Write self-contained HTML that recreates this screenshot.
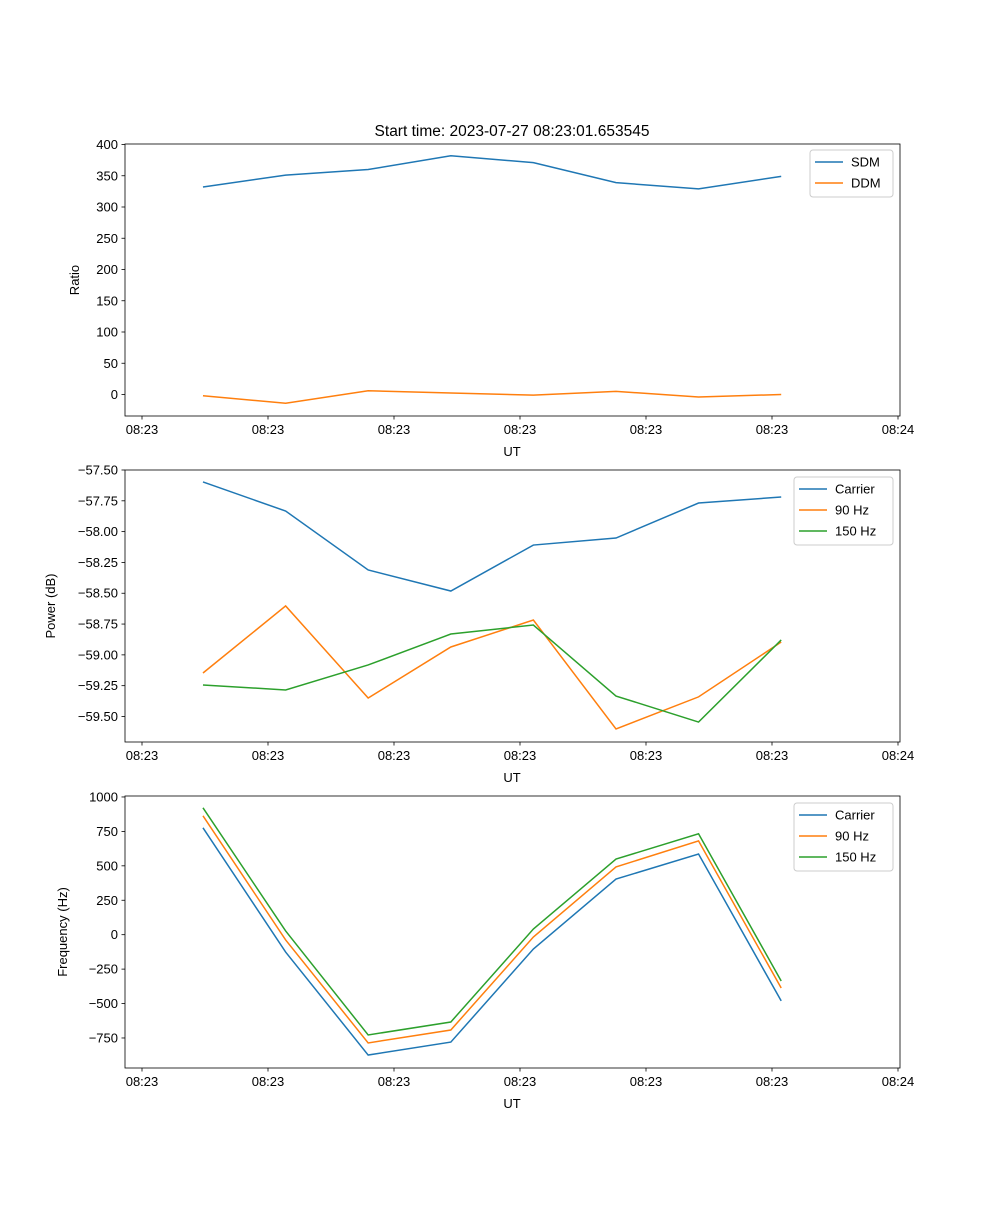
<!DOCTYPE html>
<html><head><meta charset="utf-8"><style>
body{margin:0;background:#fff;}
svg text{font-family:"Liberation Sans","DejaVu Sans",sans-serif;font-size:13px;fill:#000;}
</style></head><body>
<svg id="fig" width="1000" height="1200" xmlns="http://www.w3.org/2000/svg">
<rect width="1000" height="1200" fill="#fff"/>
<text x="512" y="136" text-anchor="middle" style="font-size:15.5px">Start time: 2023-07-27 08:23:01.653545</text>
</svg>
<script>
const times = [0.484, 1.140, 1.795, 2.451, 3.106, 3.762, 4.417, 5.073];
const xTickVals = [0, 1, 2, 3, 4, 5, 6];
const xTickLabels = ["08:23","08:23","08:23","08:23","08:23","08:23","08:24"];
const sdm = [332, 351, 360, 382, 371, 339, 329, 349];
const ddm = [-2, -14, 6, 2.5, -1, 5, -4, 0];
const pCarrier = [-57.597, -57.833, -58.311, -58.482, -58.109, -58.052, -57.768, -57.719];
const p90 = [-59.147, -58.603, -59.35, -58.936, -58.717, -59.601, -59.341, -58.896];
const p150 = [-59.244, -59.285, -59.082, -58.831, -58.758, -59.334, -59.545, -58.879];
const fCarrier = [776, -126, -874, -780, -104, 404, 586, -481];
const f90 = [863, -38, -786, -692, -17, 492, 681, -387];
const f150 = [921, 27, -728, -634, 41, 549, 733, -336];
const ticks1 = [0, 50, 100, 150, 200, 250, 300, 350, 400];
const ticks2 = [-57.5, -57.75, -58, -58.25, -58.5, -58.75, -59, -59.25, -59.5];
const ticks3 = [1000, 750, 500, 250, 0, -250, -500, -750];

const NS = "http://www.w3.org/2000/svg";
const svg = document.getElementById('fig');
const L = 125, R = 900;
const xScale = v => 142 + (v - 0) * 126;
function mk(tag, attrs, parent) {
  const e = document.createElementNS(NS, tag);
  for (const k in attrs) e.setAttribute(k, attrs[k]);
  (parent || svg).appendChild(e);
  return e;
}
const colors = ["#1f77b4", "#ff7f0e", "#2ca02c"];

function panel(top, bottom, yMin, yMax, yTicks, fmt, ylabel, ylabelX, series, names, legend, pname) {
  const g = mk('g', {});
  
  
  const yScale = v => bottom - (v - yMin) / (yMax - yMin) * (bottom - top);
  series.forEach((s, si) => {
    const pts = s.map((v, i) => xScale(times[i]).toFixed(2) + ',' + yScale(v).toFixed(2)).join(' ');
    const pl = mk('polyline', {points: pts, fill: 'none', stroke: colors[si], 'stroke-width': 1.5}, g);
    
    
  });
  const fr = mk('rect', {x: L, y: top, width: R - L, height: bottom - top, fill: 'none', stroke: '#000', 'stroke-width': 0.8}, g);
  
  
  xTickVals.forEach((v, i) => {
    const x = xScale(v);
    mk('line', {x1: x, x2: x, y1: bottom, y2: bottom + 3.5, stroke: '#000', 'stroke-width': 0.8}, g);
    const t = mk('text', {x: x, y: bottom + 18, 'text-anchor': 'middle'}, g);
    t.textContent = xTickLabels[i];
    
    
  });
  const xl = mk('text', {x: 512, y: bottom + 40, 'text-anchor': 'middle'}, g);
  xl.textContent = 'UT';
  
  
  yTicks.forEach(v => {
    const y = yScale(v);
    mk('line', {x1: L - 3.5, x2: L, y1: y, y2: y, stroke: '#000', 'stroke-width': 0.8}, g);
    const t = mk('text', {x: L - 7, y: y + 4.5, 'text-anchor': 'end'}, g);
    t.textContent = fmt(v);
    
    
  });
  const cy = (top + bottom) / 2;
  const yl = mk('text', {x: ylabelX, y: cy, 'text-anchor': 'middle', transform: `rotate(-90 ${ylabelX} ${cy})`}, g);
  yl.textContent = ylabel;
  
  
  const lg = mk('g', {}, g);
  
  
  mk('rect', {x: legend[0], y: legend[1], width: 893 - legend[0], height: names.length * 21 + 5, fill: '#fff', stroke: '#ccc', rx: 3}, lg);
  names.forEach((n, i) => {
    const y = legend[1] + 12 + i * 21;
    mk('line', {x1: legend[0] + 5, x2: legend[0] + 33, y1: y, y2: y, stroke: colors[i], 'stroke-width': 1.5}, lg);
    const t = mk('text', {x: legend[0] + 41, y: y + 4.5}, lg);
    t.textContent = n;
    
    
  });
}
panel(144, 416, -34.4, 400.8, ticks1, v => String(v), 'Ratio', 79, [sdm, ddm], ['SDM', 'DDM'], [810, 150], 'ratio-panel');
panel(470, 742, -59.707, -57.5, ticks2, v => '\u2212' + Math.abs(v).toFixed(2), 'Power (dB)', 55, [pCarrier, p90, p150], ['Carrier', '90 Hz', '150 Hz'], [794, 477], 'power-panel');
panel(796, 1068, -968, 1007, ticks3, v => (v < 0 ? '\u2212' : '') + Math.abs(v), 'Frequency (Hz)', 67, [fCarrier, f90, f150], ['Carrier', '90 Hz', '150 Hz'], [794, 803], 'frequency-panel');
</script>
</body></html>
